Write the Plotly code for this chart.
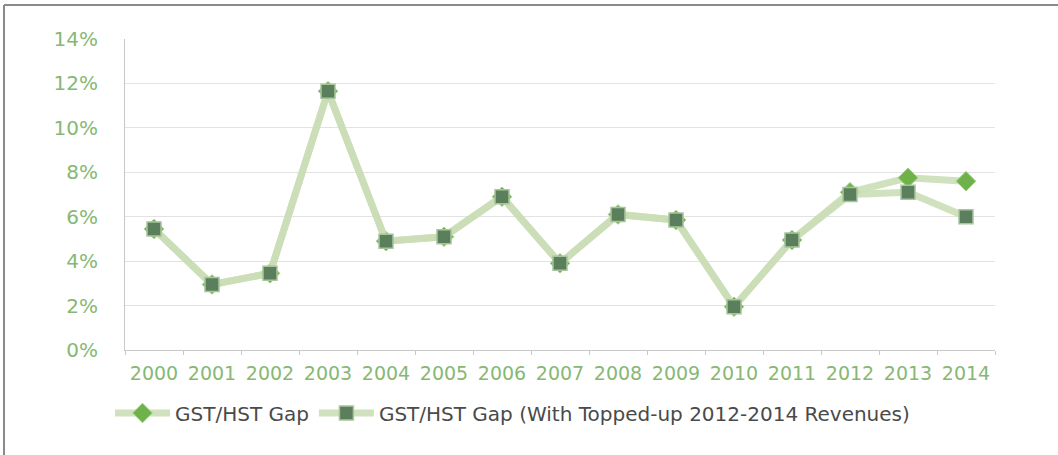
import plotly.graph_objects as go

years = [str(y) for y in range(2000, 2015)]
gap = [5.45, 2.95, 3.45, 11.65, 4.9, 5.1, 6.9, 3.9, 6.1, 5.85, 1.95, 4.95, 7.1, 7.75, 7.6]
gap_topped = [5.45, 2.95, 3.45, 11.65, 4.9, 5.1, 6.9, 3.9, 6.1, 5.85, 1.95, 4.95, 7.0, 7.1, 6.0]
y_ticks = [0, 2, 4, 6, 8, 10, 12, 14]
y_labels = [f"{v}%" for v in y_ticks]

line_col = "rgba(202,222,182,0.9)"
tick_col = "#86b874"
font = "DejaVu Sans"

L, R, T, B = 125, 63, 39, 105
W, H = 1058, 455
pw, ph = W - L - R, H - T - B

fig = go.Figure()
fig.add_trace(go.Scatter(
    x=years, y=gap, name="GST/HST Gap", mode="lines+markers",
    line=dict(color=line_col, width=7),
    marker=dict(symbol="diamond", size=15, color="#6fb24a",
                line=dict(color="#9ccc80", width=1)),
))
fig.add_trace(go.Scatter(
    x=years, y=gap_topped, name="GST/HST Gap (With Topped-up 2012-2014 Revenues)",
    mode="lines+markers",
    line=dict(color=line_col, width=7),
    marker=dict(symbol="square", size=14, color="#5b7f5c",
                line=dict(color="#a9c59c", width=1.5)),
))

fig.update_layout(
    width=W, height=H,
    margin=dict(l=L, r=R, t=T, b=B),
    paper_bgcolor="white", plot_bgcolor="white",
    font=dict(family=font, color="#333333"),
    showlegend=True,
    legend=dict(orientation="h", x=(110 - L) / pw, xanchor="left",
                y=-(413 - (H - B)) / ph, yanchor="middle",
                font=dict(size=20, color="#4a4a4a", family=font),
                itemwidth=55, traceorder="normal"),
    shapes=[
        dict(type="line", xref="paper", yref="paper", x0=(4 - L) / pw, x1=(W - L) / pw,
             y0=1 + (T - 5) / ph, y1=1 + (T - 5) / ph, line=dict(color="#8a8a8a", width=2)),
        dict(type="line", xref="paper", yref="paper", x0=(4 - L) / pw, x1=(4 - L) / pw,
             y0=1 + (T - 5) / ph, y1=-B / ph, line=dict(color="#8a8a8a", width=2)),
    ],
)
fig.update_xaxes(
    type="category", range=[-0.5, 14.5], showgrid=False, showline=True,
    linecolor="#c8c8c8", linewidth=1,
    ticks="outside", tickson="boundaries", ticklen=4, tickcolor="#c8c8c8",
    tickfont=dict(size=19, color=tick_col, family=font), tickangle=0,
    ticklabelstandoff=6,
)
fig.update_yaxes(
    range=[0, 14], tickvals=y_ticks, ticktext=y_labels,
    showgrid=True, gridcolor="#e2e2e2", gridwidth=1,
    showline=True, linecolor="#c8c8c8", linewidth=1,
    zeroline=False, ticks="",
    tickfont=dict(size=20, color=tick_col, family=font),
    ticklabelstandoff=22,
)

fig.write_html("out.html", config={"displayModeBar": False},
               post_script="document.body.style.margin='0px';")
